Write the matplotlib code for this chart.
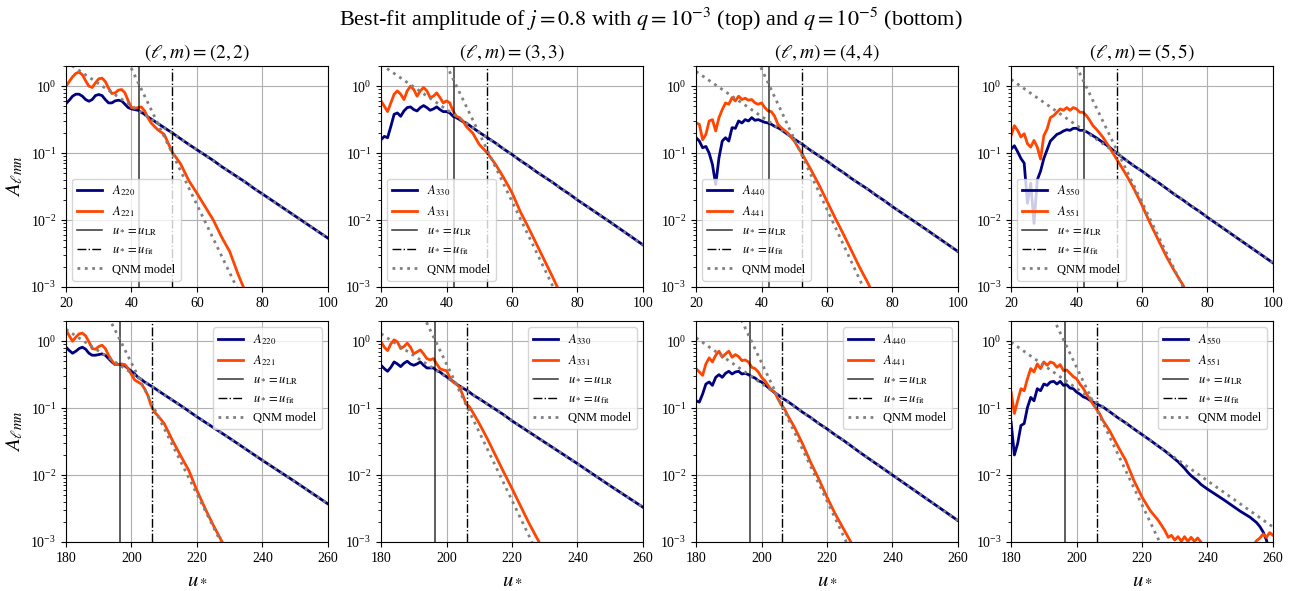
import matplotlib.pyplot as plt
import numpy as np

plt.rcParams['font.family'] = 'serif'
plt.rcParams['font.serif'] = ['Liberation Serif', 'DejaVu Serif']
plt.rcParams['mathtext.fontset'] = 'stix'

# ---- data (log10 of the amplitudes) ----
ells = [2, 3, 4, 5]

u_top = list(range(20, 47)) + [48, 50, 52.5, 55, 57.5, 60, 62.5, 65, 67.5, 70, 72.5, 75, 77.5, 80, 90, 100]
u_bot = list(range(180, 209)) + [210, 212.5, 215, 217.5, 220, 222.5, 225, 227.5, 230, 240, 250, 260]
u_bot55 = (list(range(180, 209)) + [210, 212.5, 215, 217.5, 220, 222.5, 225, 227]
           + list(range(228, 239)) + [240, 245, 250, 253, 254, 255, 256, 257, 258, 259, 260])

# q = 1e-3 (top row)
a220_top = [-0.26, -0.21, -0.15, -0.12, -0.12, -0.15, -0.20, -0.225, -0.20, -0.14, -0.125, -0.14, -0.20, -0.25,
            -0.25, -0.22, -0.21, -0.22, -0.27, -0.32, -0.34, -0.35, -0.36, -0.39, -0.42, -0.46, -0.49,
            -0.555, -0.62, -0.70, -0.785, -0.87, -0.95, -1.03, -1.11, -1.20, -1.28, -1.36, -1.44, -1.53, -1.61, -1.94, -2.27]
a221_top = [0.0, 0.07, 0.14, 0.19, 0.21, 0.17, 0.08, 0.0, -0.02, 0.05, 0.11, 0.12, 0.07, -0.03,
            -0.11, -0.10, -0.06, -0.05, -0.10, -0.22, -0.32, -0.33, -0.32, -0.31, -0.37, -0.47, -0.55,
            -0.65, -0.72, -0.99, -1.16, -1.41, -1.60, -1.80, -2.00, -2.25, -2.47, -2.80, -3.10, -3.40, -3.70, -4.90, -6.00]
a330_top = [-0.80, -0.75, -0.77, -0.60, -0.42, -0.40, -0.45, -0.37, -0.32, -0.31, -0.35, -0.37, -0.32, -0.29,
            -0.32, -0.36, -0.34, -0.31, -0.35, -0.38, -0.38, -0.40, -0.45, -0.47, -0.50, -0.53, -0.55,
            -0.62, -0.69, -0.77, -0.85, -0.94, -1.02, -1.11, -1.19, -1.28, -1.36, -1.44, -1.53, -1.61, -1.70, -2.03, -2.37]
a331_top = [-0.22, -0.30, -0.38, -0.25, -0.12, -0.07, -0.12, -0.20, -0.07, 0.00, -0.05, -0.15, -0.07, -0.02,
            -0.07, -0.17, -0.15, -0.10, -0.17, -0.25, -0.22, -0.25, -0.37, -0.45, -0.47, -0.52, -0.60,
            -0.70, -0.87, -1.00, -1.17, -1.37, -1.59, -1.87, -2.11, -2.36, -2.61, -2.86, -3.12, -3.40, -3.65, -4.90, -6.00]
a440_top = [-0.77, -0.82, -0.92, -0.90, -1.00, -1.17, -1.47, -1.07, -0.82, -0.77, -0.82, -0.62, -0.63, -0.52,
            -0.55, -0.50, -0.52, -0.47, -0.51, -0.50, -0.52, -0.54, -0.55, -0.57, -0.60, -0.62, -0.65,
            -0.72, -0.79, -0.87, -0.96, -1.04, -1.12, -1.21, -1.29, -1.38, -1.46, -1.54, -1.63, -1.71, -1.80, -2.13, -2.47]
a441_top = [-0.55, -0.57, -0.80, -0.72, -0.52, -0.50, -0.67, -0.47, -0.35, -0.25, -0.27, -0.17, -0.22, -0.15,
            -0.20, -0.18, -0.21, -0.20, -0.25, -0.27, -0.25, -0.32, -0.37, -0.38, -0.45, -0.57, -0.62,
            -0.70, -0.82, -1.02, -1.24, -1.47, -1.72, -1.97, -2.21, -2.46, -2.71, -2.94, -3.20, -3.45, -3.70, -4.80, -6.00]
a550_top = [-0.94, -0.89, -0.98, -1.08, -1.15, -1.75, -1.45, -2.05, -1.40, -1.27, -1.08, -0.95, -0.82, -0.77,
            -0.72, -0.70, -0.67, -0.65, -0.66, -0.63, -0.63, -0.66, -0.66, -0.68, -0.71, -0.74, -0.77,
            -0.84, -0.91, -1.01, -1.10, -1.19, -1.27, -1.36, -1.44, -1.53, -1.62, -1.70, -1.79, -1.87, -1.96, -2.30, -2.64]
a551_top = [-0.74, -0.59, -0.66, -0.76, -0.71, -0.86, -0.91, -0.81, -0.91, -1.09, -0.74, -0.64, -0.47, -0.44,
            -0.39, -0.34, -0.36, -0.32, -0.36, -0.32, -0.34, -0.39, -0.39, -0.44, -0.51, -0.59, -0.64,
            -0.76, -0.91, -1.11, -1.31, -1.53, -1.78, -2.05, -2.30, -2.55, -2.77, -2.97, -3.22, -3.47, -3.72, -5.00, -6.00]

# q = 1e-5 (bottom row)
a220_bot = [-0.09, -0.14, -0.18, -0.15, -0.11, -0.09, -0.12, -0.18, -0.21, -0.21, -0.20, -0.19, -0.21, -0.26, -0.31,
            -0.35, -0.35, -0.35, -0.37, -0.41, -0.45, -0.49, -0.54, -0.57, -0.61, -0.64, -0.67, -0.70, -0.735,
            -0.80, -0.88, -0.96, -1.045, -1.13, -1.21, -1.29, -1.37, -1.45, -1.78, -2.10, -2.43]
a221_bot = [0.17, 0.08, 0.0, 0.06, 0.11, 0.12, 0.08, -0.01, -0.11, -0.12, -0.08, -0.06, -0.11, -0.21, -0.29,
            -0.35, -0.35, -0.34, -0.35, -0.41, -0.50, -0.58, -0.61, -0.64, -0.71, -0.81, -0.96, -1.06, -1.11,
            -1.23, -1.48, -1.71, -1.93, -2.23, -2.50, -2.75, -2.98, -3.20, -4.20, -5.20, -6.20]
a330_bot = [-0.36, -0.41, -0.45, -0.39, -0.31, -0.34, -0.38, -0.33, -0.30, -0.34, -0.36, -0.34, -0.31, -0.36, -0.40,
            -0.40, -0.40, -0.44, -0.46, -0.50, -0.53, -0.57, -0.60, -0.64, -0.67, -0.70, -0.73, -0.76, -0.80,
            -0.86, -0.94, -1.02, -1.10, -1.19, -1.27, -1.35, -1.43, -1.51, -1.83, -2.16, -2.48]
a331_bot = [-0.01, -0.09, -0.14, -0.04, 0.02, -0.01, -0.11, -0.08, -0.03, -0.09, -0.19, -0.16, -0.13, -0.19, -0.26,
            -0.28, -0.26, -0.34, -0.41, -0.43, -0.44, -0.54, -0.61, -0.64, -0.69, -0.81, -0.94, -0.98, -1.06,
            -1.23, -1.46, -1.71, -1.96, -2.20, -2.45, -2.70, -2.93, -3.15, -4.10, -5.10, -6.10]
a440_bot = [-0.89, -0.91, -0.79, -0.64, -0.61, -0.66, -0.54, -0.50, -0.54, -0.48, -0.45, -0.49, -0.46, -0.45, -0.49,
            -0.48, -0.50, -0.53, -0.55, -0.59, -0.61, -0.65, -0.69, -0.73, -0.77, -0.80, -0.84, -0.87, -0.90,
            -0.97, -1.06, -1.14, -1.23, -1.31, -1.40, -1.48, -1.57, -1.66, -2.00, -2.34, -2.68]
a441_bot = [-0.41, -0.46, -0.51, -0.34, -0.25, -0.31, -0.21, -0.15, -0.24, -0.19, -0.15, -0.24, -0.20, -0.23, -0.29,
            -0.28, -0.31, -0.39, -0.41, -0.46, -0.54, -0.59, -0.66, -0.73, -0.76, -0.86, -0.95, -1.01, -1.11,
            -1.28, -1.53, -1.81, -2.06, -2.33, -2.58, -2.80, -3.02, -3.25, -4.30, -5.30, -6.30]
a550_bot = [-1.21, -1.70, -1.53, -1.26, -1.23, -0.99, -0.84, -0.89, -0.71, -0.74, -0.64, -0.66, -0.61, -0.60, -0.64,
            -0.60, -0.66, -0.65, -0.70, -0.71, -0.76, -0.79, -0.83, -0.85, -0.88, -0.91, -0.93, -0.96, -0.98,
            -1.05, -1.14, -1.22, -1.31, -1.395, -1.48, -1.57, -1.64,
            -1.68, -1.72, -1.76, -1.80, -1.85, -1.90, -1.96, -2.01, -2.05, -2.09, -2.14,
            -2.21, -2.37, -2.54, -2.63, -2.67, -2.71, -2.77, -2.85, -2.97, -3.15, -3.35]
a551_bot = [-0.76, -1.08, -0.89, -0.71, -0.74, -0.56, -0.41, -0.46, -0.34, -0.41, -0.31, -0.36, -0.31, -0.33, -0.39,
            -0.35, -0.44, -0.43, -0.48, -0.53, -0.56, -0.64, -0.70, -0.79, -0.86, -0.94, -1.01, -1.08, -1.18,
            -1.33, -1.56, -1.78, -2.08, -2.33, -2.53, -2.68, -2.83,
            -2.93, -2.90, -2.97, -2.92, -2.99, -2.92, -2.99, -2.93, -2.99, -2.94, -3.00,
            -3.40, -3.60, -3.50, -3.20, -3.05, -2.98, -2.94, -2.88, -2.93, -2.86, -2.90]

# QNM model lines (straight in log space): endpoints in u and log10 A
qnm0_u_top = [20, 100]
qnm1_u_top = [36, 76]
qnm0_top = [[0.366, -2.27], [0.325, -2.37], [0.22, -2.47], [0.10, -2.64]]
qnm1_top = [[0.667, -3.397], [0.718, -3.346], [0.679, -3.52], [0.696, -3.356]]
qnm0_u_bot = [180, 260]
qnm1_u_bot = [190, 232]
qnm0_bot = [[0.177, -2.43], [0.11, -2.48], [0.05, -2.68], [-0.015, -2.775]]
qnm1_bot = [[0.654, -3.46], [0.678, -3.60], [0.715, -3.63], [0.64, -3.68]]

u_lr = [42.3, 196.4]
u_fit = [52.5, 206.3]

rows = [
    dict(u=[u_top] * 4, a0=[a220_top, a330_top, a440_top, a550_top],
         a1=[a221_top, a331_top, a441_top, a551_top],
         q0u=qnm0_u_top, q1u=qnm1_u_top, q0=qnm0_top, q1=qnm1_top,
         xlim=(20, 100), loc='lower left'),
    dict(u=[u_bot, u_bot, u_bot, u_bot55], a0=[a220_bot, a330_bot, a440_bot, a550_bot],
         a1=[a221_bot, a331_bot, a441_bot, a551_bot],
         q0u=qnm0_u_bot, q1u=qnm1_u_bot, q0=qnm0_bot, q1=qnm1_bot,
         xlim=(180, 260), loc='upper right'),
]

fig, axes = plt.subplots(2, 4, figsize=(13.02, 5.91), dpi=100)
fig.subplots_adjust(left=0.0507, right=0.9777, top=0.8883, bottom=0.0829, wspace=0.203, hspace=0.154)

for r, row in enumerate(rows):
    for c in range(4):
        ax = axes[r, c]
        l = ells[c]
        ax.semilogy(row['u'][c], 10 ** np.array(row['a0'][c]), color='navy', lw=2,
                    label=r'$A_{%d%d0}$' % (l, l))
        ax.semilogy(row['u'][c], 10 ** np.array(row['a1'][c]), color='orangered', lw=2,
                    label=r'$A_{%d%d1}$' % (l, l))
        ax.axvline(u_lr[r], color='k', lw=1.1, alpha=0.8, label=r'$u_*=u_{\rm LR}$')
        ax.axvline(u_fit[r], color='k', lw=1.0, ls='-.', label=r'$u_*=u_{\rm fit}$')
        ax.semilogy(row['q0u'], 10 ** np.array(row['q0'][c]), color='gray', ls=':', lw=2,
                    label='QNM model')
        ax.semilogy(row['q1u'], 10 ** np.array(row['q1'][c]), color='gray', ls=':', lw=2)
        ax.set_xlim(*row['xlim'])
        ax.set_ylim(1e-3, 2)
        ax.set_xticks(np.arange(row['xlim'][0], row['xlim'][1] + 1, 20))
        ax.grid(True, which='major')
        ax.tick_params(labelsize=10)
        ax.legend(loc=row['loc'], fontsize=9)
        if r == 0:
            ax.set_title(r'$(\ell,m)=(%d,%d)$' % (l, l), fontsize=14)
        else:
            ax.set_xlabel(r'$u_*$', fontsize=15)
        if c == 0:
            ax.set_ylabel(r'$A_{\ell mn}$', fontsize=15)

fig.suptitle(r'Best-fit amplitude of $j=0.8$ with $q=10^{-3}$ (top) and $q=10^{-5}$ (bottom)',
             fontsize=16, y=0.99)
plt.savefig('out.png')
